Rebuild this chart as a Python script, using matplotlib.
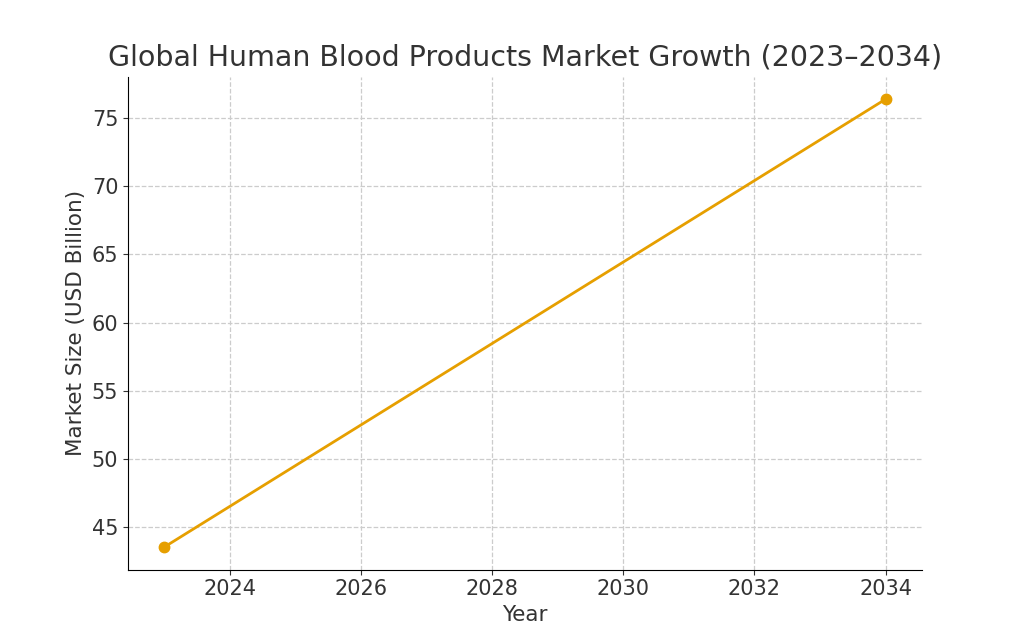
import matplotlib
matplotlib.use("Agg")
import matplotlib.pyplot as plt

# данные
years = [2023, 2034]
market_size = [43.5, 76.4]

plt.rcParams['text.color'] = '#333333'
plt.rcParams['axes.labelcolor'] = '#333333'
plt.rcParams['xtick.color'] = '#333333'
plt.rcParams['ytick.color'] = '#333333'

fig, ax = plt.subplots(figsize=(10.24, 6.4), dpi=100)
ax.plot(years, market_size, color='#E69F00', linewidth=2, marker='o', markersize=7.5)

ax.set_title('Global Human Blood Products Market Growth (2023–2034)', fontsize=20.5, pad=8)
ax.set_xlabel('Year', fontsize=15.5)
ax.set_ylabel('Market Size (USD Billion)', fontsize=15.5)
ax.tick_params(labelsize=15)
ax.grid(True, linestyle='--', color='#cccccc', linewidth=0.9)
ax.spines['top'].set_visible(False)
ax.spines['right'].set_visible(False)

fig.savefig('out.png', dpi=100)
